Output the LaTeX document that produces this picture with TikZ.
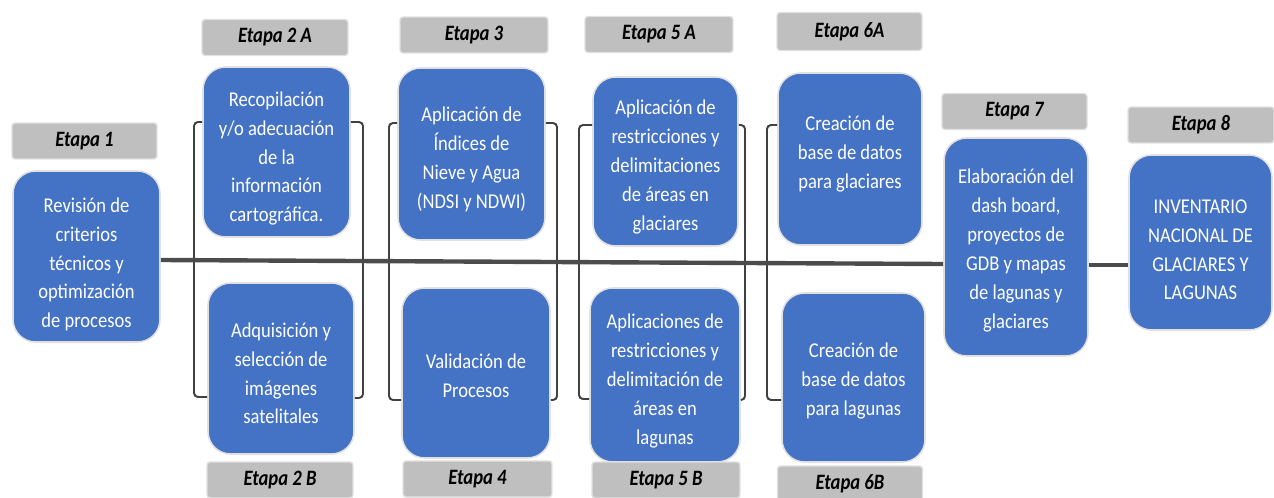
\documentclass[tikz,border=0pt]{standalone}
\usepackage{fontspec}
\setmainfont{Carlito}
\newfontfamily\boxfont[FakeStretch=0.88]{Carlito}
\newfontfamily\lblfont[FakeStretch=0.85]{Carlito}
\begin{document}
\begin{tikzpicture}[x=0.02cm,y=-0.02cm,
  bluebox/.style={draw=black!12, line width=0.9pt, fill=boxblue, rounded corners=0.45cm, inner sep=0pt},
  btext/.style={text=white, align=center, font=\boxfont\fontsize{12}{16.4}\selectfont, inner sep=0pt},
  lbl/.style={draw=black!12, line width=0.8pt, fill=lblgray, rounded corners=0.06cm,
    text=black, font=\lblfont\fontsize{12.5}{13}\selectfont\bfseries\itshape, inner sep=0pt,
    minimum height=0.72cm},
  brk/.style={draw=black!75, line width=1.1pt, rounded corners=0.08cm},
  mainln/.style={draw=black!70, line width=2.5pt}]
\definecolor{boxblue}{RGB}{68,114,196}
\definecolor{lblgray}{RGB}{191,191,191}
\useasboundingbox (0,0) rectangle (1274,497);

% main line coordinates
\coordinate (m1) at (0,260);
\coordinate (m2) at (0,264);
\coordinate (m3) at (0,265);

% blue boxes
\node[bluebox, minimum width=2.94cm, minimum height=3.42cm] (b1) at (86.5,256.5) {};
\node[bluebox, minimum width=2.94cm, minimum height=3.40cm] (b2a) at (276.5,152) {};
\node[bluebox, minimum width=2.92cm, minimum height=3.42cm] (b2b) at (281,368.5) {};
\node[bluebox, minimum width=2.94cm, minimum height=3.44cm] (b3) at (471.5,154) {};
\node[bluebox, minimum width=2.96cm, minimum height=3.40cm] (b4) at (476,373) {};
\node[bluebox, minimum width=2.90cm, minimum height=3.38cm] (b5a) at (665.5,161.5) {};
\node[bluebox, minimum width=3.00cm, minimum height=3.48cm] (b5b) at (665,375) {};
\node[bluebox, minimum width=2.88cm, minimum height=3.44cm] (b6a) at (850,159) {};
\node[bluebox, minimum width=2.86cm, minimum height=3.38cm] (b6b) at (853.5,377.5) {};
\node[bluebox, minimum width=2.88cm, minimum height=4.36cm] (b7) at (1016,247) {};
\node[bluebox, minimum width=2.86cm, minimum height=3.50cm] (b8) at (1200.5,242.5) {};

% box texts
\node[btext] (t1) at ([yshift=-0.16cm]b1.center)
  {Revisión de\\criterios\\técnicos y\\optimización\\de procesos};
\node[btext] (t2a) at ([yshift=-0.13cm]b2a.center)
  {Recopilación\\y/o adecuación\\de la\\información\\cartográfica.};
\node[btext] (t2b) at ([yshift=-0.10cm]b2b.center)
  {Adquisición y\\selección de\\imágenes\\satelitales};
\node[btext] (t3) at ([yshift=-0.11cm]b3.center)
  {Aplicación de\\Índices de\\Nieve y Agua\\(NDSI y NDWI)};
\node[btext] (t4) at ([yshift=-0.06cm]b4.center)
  {Validación de\\Procesos};
\node[btext] (t5a) at ([yshift=-0.11cm]b5a.center)
  {Aplicación de\\restricciones y\\delimitaciones\\de áreas en\\glaciares};
\node[btext] (t5b) at ([yshift=-0.12cm]b5b.center)
  {Aplicaciones de\\restricciones y\\delimitación de\\áreas en\\lagunas};
\node[btext] (t6a) at ([yshift=0.10cm]b6a.center)
  {Creación de\\base de datos\\para glaciares};
\node[btext] (t6b) at ([yshift=-0.07cm]b6b.center)
  {Creación de\\base de datos\\para lagunas};
\node[btext] (t7) at ([yshift=-0.07cm]b7.center)
  {Elaboración del\\dash board,\\proyectos de\\GDB y mapas\\de lagunas y\\glaciares};
\node[btext] (t8) at ([yshift=-0.15cm]b8.center)
  {INVENTARIO\\NACIONAL DE\\GLACIARES Y\\LAGUNAS};

% labels
\node[lbl, minimum width=2.90cm] (l1) at (84.5,141) {Etapa 1};
\node[lbl, minimum width=2.92cm] (l2a) at (275,37.5) {Etapa 2 A};
\node[lbl, minimum width=2.92cm] (l2b) at (280,480) {Etapa 2 B};
\node[lbl, minimum width=2.96cm] (l3) at (474,35) {Etapa 3};
\node[lbl, minimum width=2.98cm] (l4) at (477.5,479) {Etapa 4};
\node[lbl, minimum width=2.96cm] (l5a) at (659,34.5) {Etapa 5 A};
\node[lbl, minimum width=2.96cm] (l5b) at (666,480) {Etapa 5 B};
\node[lbl, minimum width=2.90cm, minimum height=0.76cm] (l6a) at (849.5,31.5) {Etapa 6A};
\node[lbl, minimum width=2.90cm] (l6b) at (850,484) {Etapa 6B};
\node[lbl, minimum width=2.90cm] (l7) at (1014.5,111.5) {Etapa 7};
\node[lbl, minimum width=2.92cm] (l8) at (1201,125) {Etapa 8};

% bracket coordinates
\coordinate (g2lt) at (194,122); \coordinate (g2lb) at (194,397);
\coordinate (g2rt) at (363,122); \coordinate (g2rb) at (363,398);
\coordinate (g3lt) at (389,123); \coordinate (g3lb) at (389,400);
\coordinate (g3rt) at (557,123); \coordinate (g3rb) at (557,400);
\coordinate (g5lt) at (579,125); \coordinate (g5lb) at (579,399);
\coordinate (g5rt) at (745,125); \coordinate (g5rb) at (745,400);
\coordinate (g6lt) at (767,125); \coordinate (g6lb) at (767,400);

% brackets
\draw[brk] (b2a.west |- g2lt) -- (g2lt) -- (g2lb) -- (b2b.west |- g2lb);
\draw[brk] (b2a.east |- g2rt) -- (g2rt) -- (g2rb) -- (b2b.east |- g2rb);
\draw[brk] (b3.west |- g3lt) -- (g3lt) -- (g3lb) -- (b4.west |- g3lb);
\draw[brk] (b3.east |- g3rt) -- (g3rt) -- (g3rb) -- (b4.east |- g3rb);
\draw[brk] (b5a.west |- g5lt) -- (g5lt) -- (g5lb) -- (b5b.west |- g5lb);
\draw[brk] (b5a.east |- g5rt) -- (g5rt) -- (g5rb) -- (b5b.east |- g5rb);
\draw[brk] (b6a.west |- g6lt) -- (g6lt) -- (g6lb) -- (b6b.west |- g6lb);

% main line
\draw[mainln] (b1.east |- m1) -- (b7.west |- m2);
\draw[mainln] (b7.east |- m3) -- (b8.west |- m3);
\end{tikzpicture}
\end{document}
